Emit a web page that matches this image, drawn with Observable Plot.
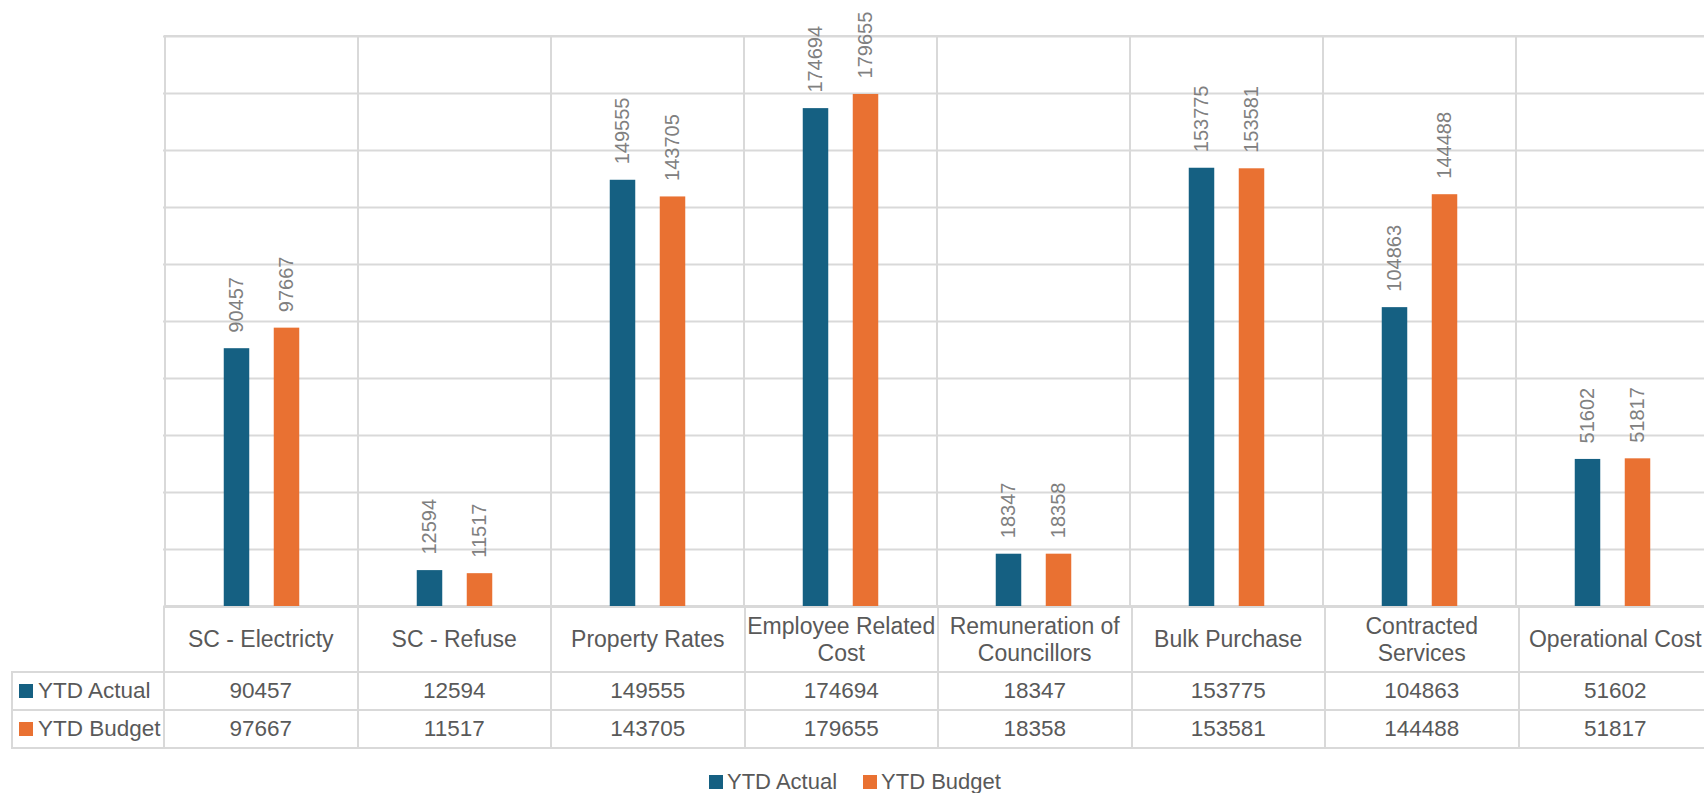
<!DOCTYPE html>
<html><head><meta charset="utf-8">
<script src="https://cdn.jsdelivr.net/npm/d3@7"></script>
<script src="https://cdn.jsdelivr.net/npm/@observablehq/plot@0.6"></script>
<style>
html,body{margin:0;padding:0;background:#fff;overflow:hidden;width:1704px;height:793px;}
#wrap{position:relative;width:1704px;height:793px;overflow:hidden;font-family:"Liberation Sans",Arial,sans-serif;color:#595959;background:#fff;}
#wrap svg{position:absolute;left:0;top:0;max-width:none;}
#dtable{position:absolute;left:11px;top:606px;border-collapse:collapse;table-layout:fixed;width:1700px;color:#595959;}
#dtable td{border:2px solid #d9d9d9;padding:0;text-align:center;white-space:normal;}
#dtable td.corner{border-top:none;border-left:none;}
#dtable tr.hdr td{height:63px;line-height:27px;font-size:23px;}
#dtable tr.val td{height:36px;font-size:22.5px;line-height:24px;}
#dtable td.key{text-align:left;padding-left:6px;white-space:nowrap;font-size:22.5px;}
.sw{display:inline-block;width:14px;height:14px;margin-right:5px;}
#legend{position:absolute;left:709px;top:771px;font-size:22px;line-height:22px;white-space:nowrap;color:#595959;}
#legend .item{display:inline-block;}
#legend .item + .item{margin-left:26px;}
#legend .sw{margin-right:4px;}
</style>
</head><body>
<div id="wrap"></div>
<script>
// ---- data ----
const categories = ["SC - Electricty","SC - Refuse","Property Rates","Employee Related Cost","Remuneration of Councillors","Bulk Purchase","Contracted Services","Operational Cost"];
const ytdActual = [90457,12594,149555,174694,18347,153775,104863,51602];
const ytdBudget = [97667,11517,143705,179655,18358,153581,144488,51817];
const seriesNames = ["YTD Actual","YTD Budget"];
const seriesColors = ["#156082","#E97132"];
const yTicks = [0,20000,40000,60000,80000,100000,120000,140000,160000,180000,200000];

const actualData = categories.map((c,i)=>({category:c, series:seriesNames[0], value:ytdActual[i]}));
const budgetData = categories.map((c,i)=>({category:c, series:seriesNames[1], value:ytdBudget[i]}));

const W = 1711, mL = 163;
const bw = (W - mL) / categories.length;
const barW = 26, off = 25;
const inset = (bw - barW) / 2;
const grid = "#d9d9d9";

const chart = Plot.plot({
  width: W, height: 607,
  marginTop: 36, marginBottom: 1, marginLeft: mL, marginRight: 0,
  x: {domain: categories, padding: 0, axis: null},
  y: {domain: [0, yTicks[yTicks.length-1]], axis: null},
  color: {domain: seriesNames, range: seriesColors},
  style: {fontFamily: '"Liberation Sans", Arial, sans-serif', background: "white", maxWidth: "none"},
  marks: [
    Plot.ruleY(yTicks, {stroke: grid, strokeWidth: 2}),
    Plot.barY(categories, {x: d => d, y1: 0, y2: yTicks[yTicks.length-1], fill: "none", stroke: grid, strokeWidth: 2}),
    Plot.barY(actualData, {x: "category", y: "value", fill: "series", insetLeft: inset, insetRight: inset, dx: -off}),
    Plot.barY(budgetData, {x: "category", y: "value", fill: "series", insetLeft: inset, insetRight: inset, dx: off}),
    Plot.text(actualData, {x: "category", y: "value", text: d => String(d.value), rotate: -90, textAnchor: "start", dx: -off, dy: -16, fill: "#808080", fontSize: 20}),
    Plot.text(budgetData, {x: "category", y: "value", text: d => String(d.value), rotate: -90, textAnchor: "start", dx: off, dy: -16, fill: "#808080", fontSize: 20})
  ]
});
chart.style.maxWidth = "none";
const wrap = d3.select("#wrap");
wrap.node().appendChild(chart);

// ---- data table ----
const table = wrap.append("table").attr("id", "dtable");
const cg = table.append("colgroup");
cg.append("col").style("width", (mL - 11) + "px");
categories.forEach(() => cg.append("col").style("width", bw + "px"));
const hdr = table.append("tr").attr("class", "hdr");
hdr.append("td").attr("class", "corner");
categories.forEach(c => hdr.append("td").text(c));
[[seriesNames[0], ytdActual, seriesColors[0]], [seriesNames[1], ytdBudget, seriesColors[1]]].forEach(([name, vals, col]) => {
  const tr = table.append("tr").attr("class", "val");
  const k = tr.append("td").attr("class", "key");
  k.append("span").attr("class", "sw").style("background", col);
  k.append("span").text(name);
  vals.forEach(v => tr.append("td").text(String(v)));
});

// ---- legend ----
const lg = wrap.append("div").attr("id", "legend");
seriesNames.forEach((n, i) => {
  const it = lg.append("span").attr("class", "item");
  it.append("span").attr("class", "sw").style("background", seriesColors[i]);
  it.append("span").text(n);
});
</script>
</body></html>
